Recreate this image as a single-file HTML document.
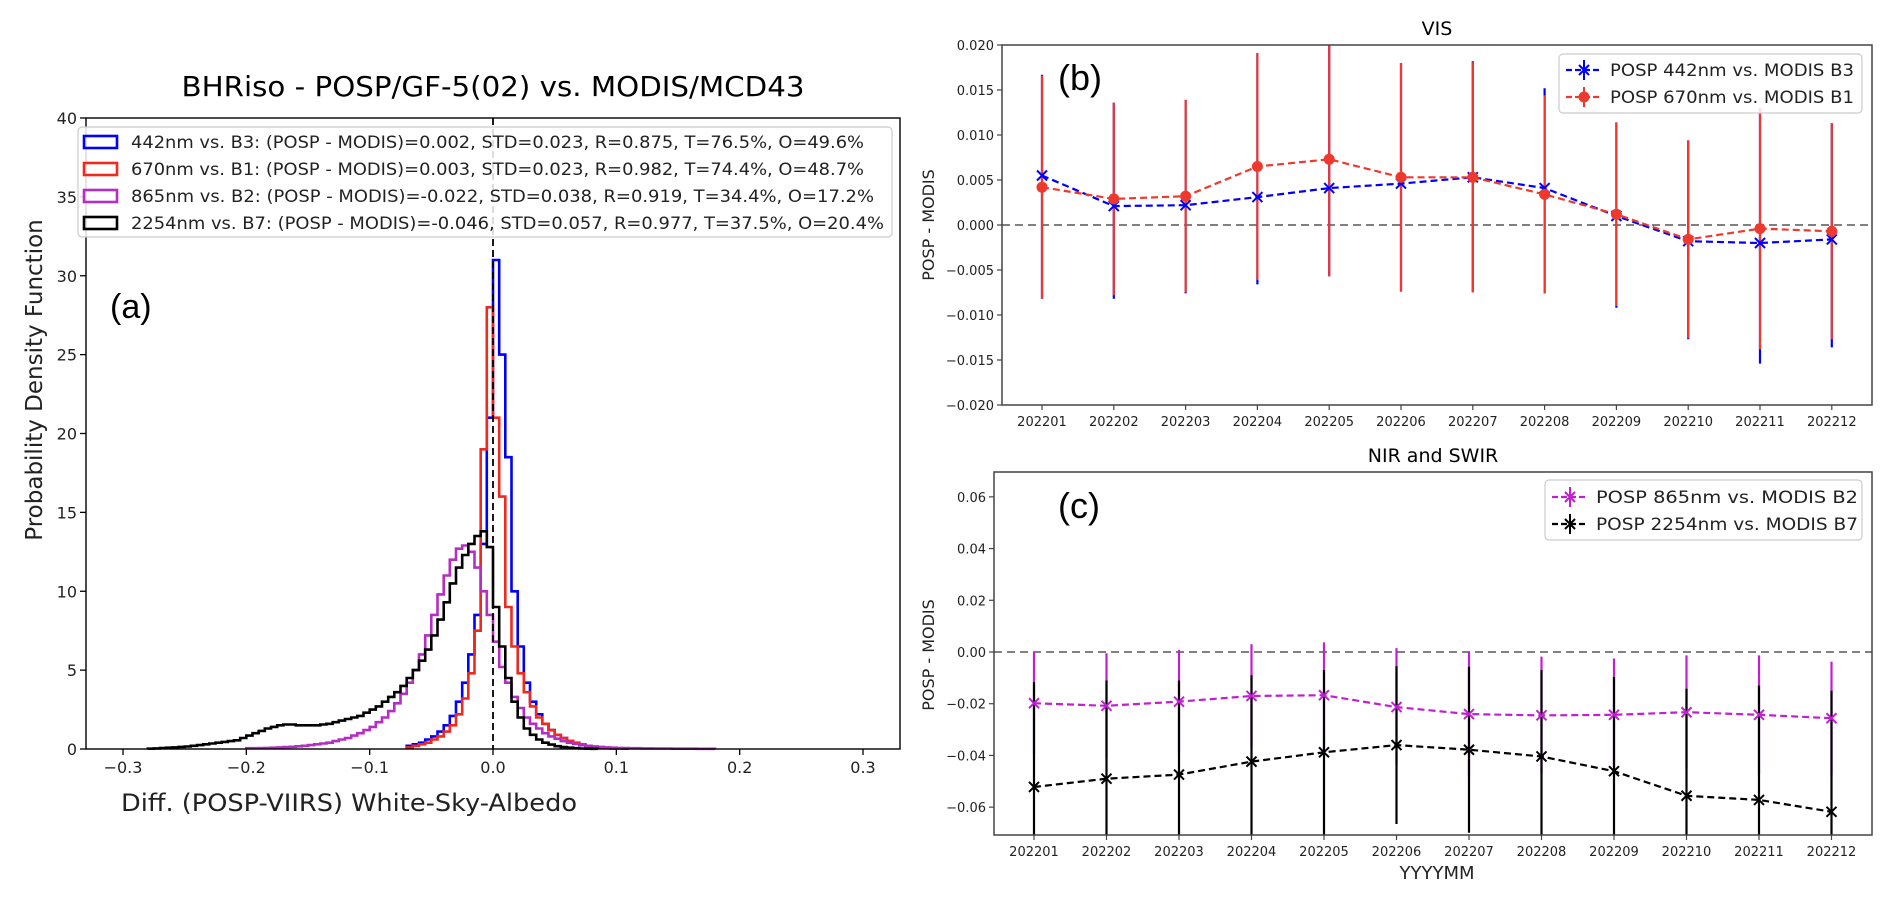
<!DOCTYPE html>
<html><head><meta charset="utf-8"><style>
html,body{margin:0;padding:0;background:#fff}
svg{display:block;font-family:"DejaVu Sans","Liberation Sans",sans-serif}
</style></head><body>
<svg id="fig" width="1892" height="897" viewBox="0 0 1892 897" xmlns="http://www.w3.org/2000/svg">
<rect width="1892" height="897" fill="#fff"/>
<text x="493" y="96" font-size="28" text-anchor="middle" textLength="623" lengthAdjust="spacingAndGlyphs">BHRiso - POSP/GF-5(02) vs. MODIS/MCD43</text>
<text transform="translate(42,380) rotate(-90)" font-size="23" text-anchor="middle" fill="#222">Probability Density Function</text>
<text x="349" y="811" font-size="24" text-anchor="middle" fill="#222" textLength="456" lengthAdjust="spacingAndGlyphs">Diff. (POSP-VIIRS) White-Sky-Albedo</text>
<text x="110" y="318" font-size="34" font-family="Liberation Sans, sans-serif">(a)</text>
<text x="1437" y="35" font-size="19" text-anchor="middle">VIS</text>
<text transform="translate(934,225) rotate(-90)" font-size="16" text-anchor="middle" fill="#222">POSP - MODIS</text>
<text x="1058" y="90" font-size="36" font-family="Liberation Sans, sans-serif">(b)</text>
<text x="1433" y="462" font-size="19" text-anchor="middle">NIR and SWIR</text>
<text transform="translate(934,655) rotate(-90)" font-size="16" text-anchor="middle" fill="#222">POSP - MODIS</text>
<text x="1437" y="879" font-size="18" text-anchor="middle" fill="#222">YYYYMM</text>
<text x="1058" y="518" font-size="36" font-family="Liberation Sans, sans-serif">(c)</text>
</svg>
<script>
// ---------- Panel (a) data ----------
const binWidth = 0.005;
const blueStart = -0.07;
const blueDensity = [0.2,0.3,0.4,0.6,0.8,1.1,1.5,2.1,3.0,4.2,6.0,8.5,13,21,31,25,18.5,10,6.5,4.2,3.0,2.2,1.6,1.2,0.9,0.7,0.5,0.35,0.25,0.18,0.12,0.08,0.05,0.03];
const redStart = -0.07;
const redDensity = [0.1,0.2,0.3,0.4,0.6,0.8,1.1,1.5,2.2,3.2,4.8,7.5,19,28,21,16,9,6.5,4.8,3.6,2.7,2.0,1.6,1.2,0.9,0.7,0.5,0.4,0.3,0.2,0.15,0.1,0.07,0.05,0.03,0.02];
const magentaStart = -0.2;
const magentaDensity = [0.05,0.05,0.06,0.07,0.08,0.1,0.12,0.14,0.17,0.2,0.25,0.3,0.35,0.4,0.5,0.6,0.7,0.85,1.0,1.2,1.4,1.7,2.0,2.4,2.9,3.5,4.2,5.0,6.0,7.2,8.5,9.8,11,12,12.7,12.9,12.5,11.5,10,8.5,6.8,5.2,4.2,3.3,2.6,2.0,1.6,1.3,1.0,0.8,0.65,0.5,0.4,0.32,0.25,0.2,0.16,0.13,0.1,0.08,0.07,0.06,0.05,0.05,0.04,0.04,0.03,0.03,0.03,0.02,0.02,0.02,0.02,0.01,0.01,0.01];
const blackStart = -0.28;
const blackDensity = [0.02,0.04,0.06,0.08,0.1,0.13,0.16,0.2,0.25,0.3,0.35,0.4,0.45,0.5,0.55,0.7,0.85,1.0,1.15,1.3,1.4,1.5,1.55,1.55,1.5,1.5,1.5,1.5,1.55,1.6,1.7,1.8,1.9,2.0,2.1,2.3,2.5,2.7,3.0,3.3,3.6,4.0,4.5,5.0,5.6,6.3,7.2,8.2,9.3,10.5,11.5,12.3,13.0,13.5,13.8,12.8,9.0,6.5,4.5,3.0,2.0,1.3,0.9,0.6,0.4,0.28,0.18,0.12,0.08,0.05,0.03,0.02,0.01];
const aXTicks = [-0.3,-0.2,-0.1,0.0,0.1,0.2,0.3];
const aXTickLabels = ["\u22120.3","\u22120.2","\u22120.1","0.0","0.1","0.2","0.3"];
const aYTicks = [0,5,10,15,20,25,30,35,40];
const aLegendLabels = [
 "442nm vs. B3: (POSP - MODIS)=0.002, STD=0.023, R=0.875, T=76.5%, O=49.6%",
 "670nm vs. B1: (POSP - MODIS)=0.003, STD=0.023, R=0.982, T=74.4%, O=48.7%",
 "865nm vs. B2: (POSP - MODIS)=-0.022, STD=0.038, R=0.919, T=34.4%, O=17.2%",
 "2254nm vs. B7: (POSP - MODIS)=-0.046, STD=0.057, R=0.977, T=37.5%, O=20.4%"];

// ---------- Panel (b) data ----------
const months = ["202201","202202","202203","202204","202205","202206","202207","202208","202209","202210","202211","202212"];
const blueMean = [0.0055,0.0021,0.0022,0.0031,0.0041,0.0046,0.0053,0.0041,0.0010,-0.0018,-0.0020,-0.0016];
const blueLow = [-0.0082,-0.0082,-0.0076,-0.0066,-0.0057,-0.0074,-0.0074,-0.0076,-0.0092,-0.0127,-0.0154,-0.0136];
const blueHigh = [0.0167,0.0136,0.0139,0.0191,0.0200,0.0180,0.0182,0.0152,0.0114,0.0094,0.0130,0.0113];
const redMean = [0.0042,0.0029,0.0032,0.0065,0.0073,0.0053,0.0053,0.0034,0.0012,-0.0016,-0.0004,-0.0007];
const redStd = [0.0124,0.0107,0.0107,0.0126,0.0130,0.0127,0.0128,0.0110,0.0102,0.0110,0.0134,0.0120];
const bYTicks = [0.020,0.015,0.010,0.005,0.000,-0.005,-0.010,-0.015,-0.020];
const bYTickLabels = ["0.020","0.015","0.010","0.005","0.000","\u22120.005","\u22120.010","\u22120.015","\u22120.020"];
const bLegendLabels = ["POSP 442nm vs. MODIS B3","POSP 670nm vs. MODIS B1"];

// ---------- Panel (c) data ----------
const magentaMean = [-0.0198,-0.0208,-0.0192,-0.0170,-0.0167,-0.0213,-0.0240,-0.0245,-0.0243,-0.0233,-0.0243,-0.0256];
const magentaStd = [0.0198,0.0203,0.0200,0.0200,0.0204,0.0228,0.0240,0.0227,0.0218,0.0220,0.0230,0.0219];
const blackMean = [-0.0522,-0.0490,-0.0474,-0.0424,-0.0388,-0.0360,-0.0378,-0.0404,-0.0461,-0.0556,-0.0572,-0.0618];
const blackStd = [0.0405,0.0380,0.0364,0.0334,0.0318,0.0305,0.0321,0.0334,0.0364,0.0414,0.0442,0.0468];
const cYTicks = [0.06,0.04,0.02,0.00,-0.02,-0.04,-0.06];
const cYTickLabels = ["0.06","0.04","0.02","0.00","\u22120.02","\u22120.04","\u22120.06"];
const cLegendLabels = ["POSP 865nm vs. MODIS B2","POSP 2254nm vs. MODIS B7"];

const NS = "http://www.w3.org/2000/svg";
const svg = document.getElementById("fig");
function mk(tag, attrs, parent) {
  const e = document.createElementNS(NS, tag);
  for (const k in attrs) e.setAttribute(k, attrs[k]);
  (parent || svg).appendChild(e);
  return e;
}

const A = {l:86, r:900, t:118, b:749, xmin:-0.33, xmax:0.33, ymax:40};
const xa = v => A.l + (v - A.xmin) / (A.xmax - A.xmin) * (A.r - A.l);
const ya = v => A.b - v / A.ymax * (A.b - A.t);
const B = {l:1002, r:1872, t:45, b:405};
const xb = i => 1042 + i * 71.8;
const yb = v => 225 - v / 0.02 * 180;
const C = {l:994, r:1872, t:472, b:835};
const xc = i => 1034 + i * 72.5;
const yc = v => 652 - v / 0.07 * 181;

const TXT = "#222";
let g;
aXTicks.forEach((t, i) => {
  g = mk("line", {x1:xa(t), x2:xa(t), y1:A.b, y2:A.b+6, stroke:"#000", "stroke-width":1.3});
  
  
  g = mk("text", {x:xa(t), y:A.b+24, "font-size":16, "text-anchor":"middle", fill:TXT});
  g.textContent = aXTickLabels[i];
  
  
});
aYTicks.forEach(t => {
  g = mk("line", {x1:A.l-6, x2:A.l, y1:ya(t), y2:ya(t), stroke:"#000", "stroke-width":1.3});
  
  
  g = mk("text", {x:A.l-9, y:ya(t)+6, "font-size":16, "text-anchor":"end", fill:TXT});
  g.textContent = String(t);
  
  
});
function stepPath(start, dens) {
  let d = "M" + xa(start) + "," + ya(0);
  dens.forEach((v, i) => {
    const x0 = xa(start + i * binWidth), x1 = xa(start + (i + 1) * binWidth);
    d += " L" + x0.toFixed(1) + "," + ya(v).toFixed(1) + " L" + x1.toFixed(1) + "," + ya(v).toFixed(1);
  });
  d += " L" + xa(start + dens.length * binWidth).toFixed(1) + "," + ya(0);
  return d;
}
g = mk("path", {d:stepPath(blueStart, blueDensity), fill:"none", stroke:"#0000ff", "stroke-width":2.6});


g = mk("path", {d:stepPath(redStart, redDensity), fill:"none", stroke:"#ee2a1e", "stroke-width":2.6});


g = mk("path", {d:stepPath(magentaStart, magentaDensity), fill:"none", stroke:"#b52ec3", "stroke-width":2.6});


g = mk("path", {d:stepPath(blackStart, blackDensity), fill:"none", stroke:"#000", "stroke-width":2.6});


g = mk("line", {x1:xa(0), x2:xa(0), y1:A.t, y2:A.b, stroke:"#000", "stroke-width":1.8, "stroke-dasharray":"7,4"});


g = mk("rect", {x:A.l, y:A.t, width:A.r-A.l, height:A.b-A.t, fill:"none", stroke:"#000", "stroke-width":1.4});


g = mk("rect", {x:78, y:127, width:814, height:110, rx:4, fill:"#fff", "fill-opacity":0.85, stroke:"#ccc", "stroke-width":1.2});


const aLegColors = ["#0000ff","#ee2a1e","#b52ec3","#000"];
aLegendLabels.forEach((s, i) => {
  const cy = 142 + i * 27;
  g = mk("rect", {x:84, y:cy-6, width:33, height:12, fill:"none", stroke:aLegColors[i], "stroke-width":2.6});
  
  
  g = mk("text", {x:131, y:cy+6, "font-size":17, fill:TXT, textLength:(i===3?753:(i===2?743:733)), lengthAdjust:"spacingAndGlyphs"});
  g.textContent = s;
  
  
});

function axesFrame(P, name) {
  g = mk("rect", {x:P.l, y:P.t, width:P.r-P.l, height:P.b-P.t, fill:"none", stroke:"#444", "stroke-width":1.5});
  
  
}
function monthTicks(P, xf, name) {
  months.forEach((m, i) => {
    g = mk("line", {x1:xf(i), x2:xf(i), y1:P.b, y2:P.b+5, stroke:"#444", "stroke-width":1.2});
    
    
    g = mk("text", {x:xf(i), y:P.b+21, "font-size":13, "text-anchor":"middle", fill:TXT});
    g.textContent = m;
    
    
  });
}
function yTicks(P, ticks, labels, yf, name) {
  ticks.forEach((t, i) => {
    g = mk("line", {x1:P.l-5, x2:P.l, y1:yf(t), y2:yf(t), stroke:"#444", "stroke-width":1.2});
    
    
    g = mk("text", {x:P.l-8, y:yf(t)+5, "font-size":13, "text-anchor":"end", fill:TXT});
    g.textContent = labels[i];
    
    
  });
}
function clampY(y, P) { return Math.max(P.t, Math.min(P.b, y)); }
function errBars(P, xf, yf, lo, hi, color, name) {
  lo.forEach((v, i) => {
    g = mk("line", {x1:xf(i), x2:xf(i), y1:clampY(yf(hi[i]),P), y2:clampY(yf(v),P), stroke:color, "stroke-width":2.2});
    
    
  });
}
function dashedSeries(xf, yf, vals, color, name) {
  const pts = vals.map((v, i) => xf(i).toFixed(1) + "," + yf(v).toFixed(1)).join(" ");
  g = mk("polyline", {points:pts, fill:"none", stroke:color, "stroke-width":2.2, "stroke-dasharray":"7,4"});
  
  
}
function xMarker(x, y, color, s) {
  g = mk("path", {d:`M${x-s},${y-s}L${x+s},${y+s}M${x-s},${y+s}L${x+s},${y-s}`, stroke:color, "stroke-width":2, fill:"none"});
  
  
}
function dotMarker(x, y, color) {
  g = mk("circle", {cx:x, cy:y, r:5.5, fill:color});
  
  
}

yTicks(B, bYTicks, bYTickLabels, yb, 'panel-b');
monthTicks(B, xb, 'panel-b');
g = mk("line", {x1:B.l, x2:B.r, y1:yb(0), y2:yb(0), stroke:"#808080", "stroke-width":2, "stroke-dasharray":"8,5"});


errBars(B, xb, yb, blueLow, blueHigh, "#0000ff", 'errorbar-442nm');
errBars(B, xb, yb, redMean.map((m,i)=>m-redStd[i]), redMean.map((m,i)=>m+redStd[i]), "#ee3a2e", 'errorbar-670nm');
dashedSeries(xb, yb, blueMean, "#0000ff", 'line-442nm');
dashedSeries(xb, yb, redMean, "#ee3a2e", 'line-670nm');
blueMean.forEach((v, i) => xMarker(xb(i), yb(v), "#0000ff", 5));
redMean.forEach((v, i) => dotMarker(xb(i), yb(v), "#ee3a2e"));
axesFrame(B, 'panel-b-plot-frame');
g = mk("rect", {x:1559, y:54, width:303, height:59, rx:4, fill:"#fff", "fill-opacity":0.85, stroke:"#ccc", "stroke-width":1.2});


[["#0000ff","x"],["#ee3a2e","o"]].forEach((c, i) => {
  const cy = 70 + i * 27;
  g = mk("line", {x1:1566, x2:1602, y1:cy, y2:cy, stroke:c[0], "stroke-width":2.2, "stroke-dasharray":"6,3"});
  
  
  g = mk("line", {x1:1584, x2:1584, y1:cy-10, y2:cy+10, stroke:c[0], "stroke-width":2});
  
  
  if (c[1] === "x") xMarker(1584, cy, c[0], 5); else dotMarker(1584, cy, c[0]);
  g = mk("text", {x:1610, y:cy+6, "font-size":17, fill:TXT, textLength:244, lengthAdjust:"spacingAndGlyphs"});
  g.textContent = bLegendLabels[i];
  
  
});

yTicks(C, cYTicks, cYTickLabels, yc, 'panel-c');
monthTicks(C, xc, 'panel-c');
g = mk("line", {x1:C.l, x2:C.r, y1:yc(0), y2:yc(0), stroke:"#808080", "stroke-width":2, "stroke-dasharray":"8,5"});


errBars(C, xc, yc, magentaMean.map((m,i)=>m-magentaStd[i]), magentaMean.map((m,i)=>m+magentaStd[i]), "#c020d0", 'errorbar-865nm');
errBars(C, xc, yc, blackMean.map((m,i)=>m-blackStd[i]), blackMean.map((m,i)=>m+blackStd[i]), "#000", 'errorbar-2254nm');
dashedSeries(xc, yc, magentaMean, "#c020d0", 'line-865nm');
dashedSeries(xc, yc, blackMean, "#000", 'line-2254nm');
magentaMean.forEach((v, i) => xMarker(xc(i), yc(v), "#c020d0", 5));
blackMean.forEach((v, i) => xMarker(xc(i), yc(v), "#000", 5));
axesFrame(C, 'panel-c-plot-frame');
g = mk("rect", {x:1545, y:480, width:317, height:60, rx:4, fill:"#fff", "fill-opacity":0.85, stroke:"#ccc", "stroke-width":1.2});


["#c020d0","#000"].forEach((c, i) => {
  const cy = 497 + i * 27;
  g = mk("line", {x1:1552, x2:1588, y1:cy, y2:cy, stroke:c, "stroke-width":2.2, "stroke-dasharray":"6,3"});
  
  
  g = mk("line", {x1:1570, x2:1570, y1:cy-10, y2:cy+10, stroke:c, "stroke-width":2});
  
  
  xMarker(1570, cy, c, 5);
  g = mk("text", {x:1596, y:cy+6, "font-size":17, fill:TXT, textLength:262, lengthAdjust:"spacingAndGlyphs"});
  g.textContent = cLegendLabels[i];
  
  
});
</script>
</body></html>
